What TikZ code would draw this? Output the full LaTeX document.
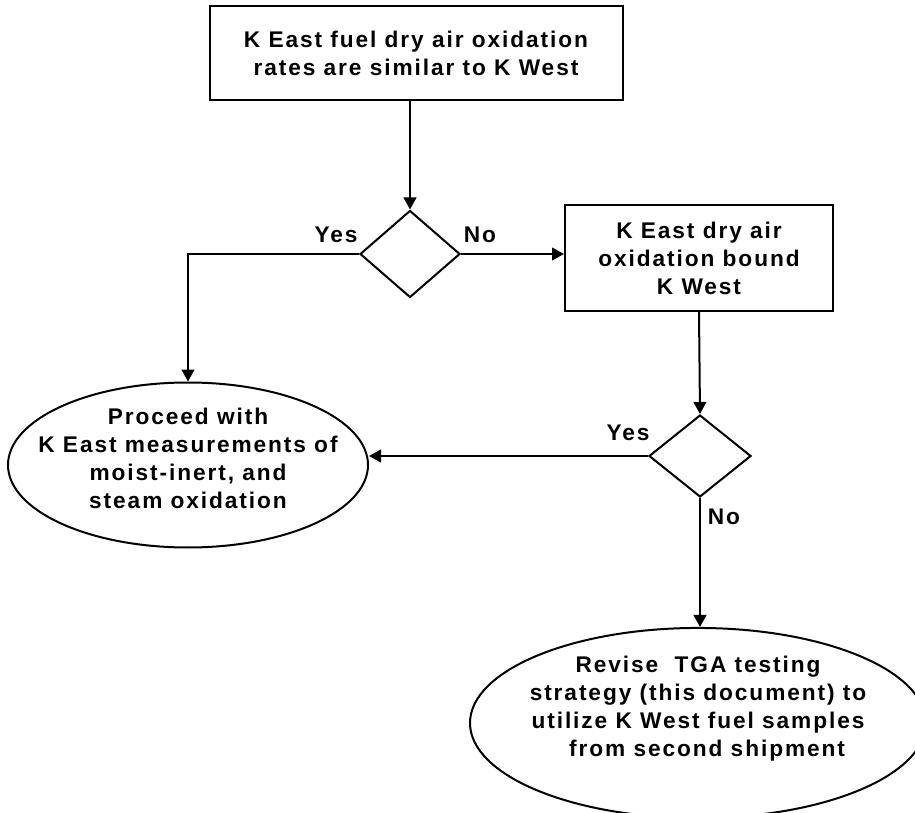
\documentclass[tikz,border=0pt]{standalone}
\usepackage{fontspec}
\setmainfont{Liberation Sans}[LetterSpace=8.5]
\usepackage{tikz}
\usetikzlibrary{shapes.geometric}
\usetikzlibrary{arrows.meta}

\tikzset{
  txt/.style={font=\fontsize{17pt}{21pt}\selectfont\bfseries, align=center, inner sep=0pt},
  flowbox/.style={txt, draw, line width=1.5pt, rectangle},
  decide/.style={draw, line width=1.5pt, diamond, inner sep=0pt},
  result/.style={txt, draw, line width=1.5pt, ellipse, inner xsep=-70pt},
  flow/.style={line width=1.5pt, -{Triangle[length=9pt,width=9.5pt]}}
}

\begin{document}
\begin{tikzpicture}[x=0.75pt, y=-0.75pt]
\useasboundingbox (0,0) rectangle (915,813);
\node [flowbox, minimum width=309.75pt, minimum height=70.5pt] (top) at (416,53) {K East fuel dry air oxidation\\rates are similar to K West};
\node [decide, minimum width=75pt, minimum height=65.25pt] (d1) at (410,254) {};
\node [flowbox, minimum width=201pt, minimum height=79.5pt] (b2) at (699,258) {K East dry air\\oxidation bound\\K West};
\node [decide, minimum width=76.5pt, minimum height=61.5pt] (d2) at (700,456) {};
\node [result, minimum width=270pt, minimum height=123.75pt] (e1) at (188,465) {Proceed with\\K East measurements of\\moist-inert, and\\steam oxidation\\[-10.5pt]\mbox{}};
\node [result, minimum width=342pt, minimum height=132.75pt] (e2) at (698,723) {Revise\ \ TGA testing\\strategy (this document) to\\utilize K West fuel samples\\\hspace*{0.8em}from second shipment\\[4.5pt]\mbox{}};

\node [txt] (yes1) at (336,235) {Yes};
\node [txt] (no1) at (480,235) {No};
\node [txt] (yes2) at (628,433) {Yes};
\node [txt] (no2) at (724,517) {No};

\draw [flow] (d1.north |- top.south) -- (d1.north);
\draw [flow] (d1.west) -| (e1.north);
\draw [flow] (d1.east) -- (d1.east -| b2.west);
\draw [flow] (b2.south) -- (d2.north);
\draw [flow] (d2.west) -- (d2.west -| e1.east);
\draw [flow] (d2.south) -- (d2.south |- e2.north);

\end{tikzpicture}
\end{document}
